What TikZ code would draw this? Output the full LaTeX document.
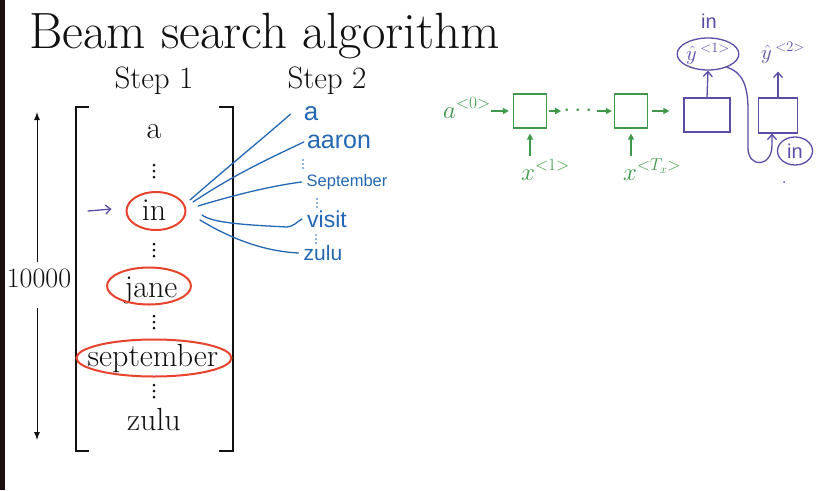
\documentclass[tikz,border=0pt]{standalone}
\usepackage{fontspec}
\usepackage{amsmath}
\usetikzlibrary{arrows.meta,positioning,shapes.geometric,calc}
\newfontfamily\handfont{Liberation Sans}
\definecolor{ink}{HTML}{111111}
\definecolor{hotred}{HTML}{E8432D}
\definecolor{pen}{HTML}{2468B4}
\definecolor{leaf}{HTML}{3E9A4A}
\definecolor{grape}{HTML}{5B4DA6}
\definecolor{edge}{HTML}{1C0F0F}
\tikzset{
  title/.style={font=\fontsize{51}{56}\selectfont,text=ink,inner sep=0pt},
  steplbl/.style={font=\fontsize{31}{34}\selectfont,text=ink,inner sep=0pt,anchor=base},
  word/.style={font=\fontsize{32}{36}\selectfont,text=ink,inner sep=0pt,anchor=base},
  ring/.style={ellipse,draw=hotred,line width=2pt,inner sep=0pt},
  hand/.style={font=\handfont\fontsize{21}{23}\selectfont,text=pen,inner sep=0pt},
  pline/.style={draw=pen,line width=1.3pt,line cap=round},
  rnn/.style={draw=leaf,line width=1.3pt,minimum width=33pt,minimum height=34pt,inner sep=0pt},
  garrow/.style={-{Triangle[length=6pt,width=6pt]},draw=leaf,line width=1.5pt},
  gmath/.style={text=leaf,inner sep=0pt,font=\fontsize{24}{26}\selectfont},
  pbox/.style={draw=grape,line width=1.3pt,inner sep=0pt},
  parrow/.style={-{Straight Barb[length=5pt,width=9pt]},draw=grape,line width=1.3pt,line cap=round},
  ptext/.style={font=\handfont\fontsize{20}{22}\selectfont,text=grape,inner sep=0pt},
  pmath/.style={font=\fontsize{21}{23}\selectfont,text=grape,inner sep=0pt},
  karrow/.style={-{Latex[length=8pt,width=6pt]},draw=ink,line width=1pt},
}
\begin{document}
\begin{tikzpicture}[x=1pt,y=-1pt]
  \useasboundingbox[fill=white] (0,0) rectangle (840,490);
  \fill[edge] (0,0) rectangle (5,490);
  % title and column heads
  \node[title,anchor=base west] (title) at (29,48) {Beam search algorithm};
  \node[steplbl] (step1) at (154,88) {Step 1};
  \node[steplbl] (step2) at (327,88) {Step 2};

  % vocabulary
  \draw[ink,line width=1.3pt] (89,107) -- (76,107) -- (76,451) -- (89,451);
  \draw[ink,line width=1.3pt] (219,107) -- (233,107) -- (233,451) -- (219,451);
  \node[word] (wa) at (154,138) {a};
  \node[word] (win) at (154,220) {in};
  \node[word] (wjane) at (151,297) {jane};
  \node[word] (wsep) at (153,366) {september};
  \node[word] (wzulu) at (154,430) {zulu};
  \foreach \y in {171,250,322,391}
    \foreach \d in {-6,0,6}
      \fill[ink] (154,\y+\d) circle (1.5pt);
  \node[ring,minimum width=59pt,minimum height=38pt] (rin) at (156,211) {};
  \node[ring,minimum width=84pt,minimum height=37pt] (rjane) at (149,286) {};
  \node[ring,minimum width=155pt,minimum height=37pt] (rsep) at (154,358) {};
  \coordinate (pick) at (88,211);
  \draw[parrow] (pick) -- ($(rin.west)+(-14,-2)$);

  % vocabulary size
  \node[font=\fontsize{28}{30}\selectfont,text=ink,inner sep=0pt,anchor=base] (size) at (39,287) {10000};
  \coordinate (vtop) at (37,112);
  \coordinate (vbot) at (37,440);
  \draw[karrow,shorten <=6pt] (size.north -| vtop) -- (vtop);
  \draw[karrow,shorten <=20pt] (size.south -| vbot) -- (vbot);

  % step 2 candidates
  \node[hand,font=\handfont\fontsize{26}{28}\selectfont] (sa) at (311,114) {a};
  \node[hand,font=\handfont\fontsize{25}{27}\selectfont] (saaron) at (339,142) {aaron};
  \node[hand,font=\handfont\fontsize{16.5}{18}\selectfont] (ssep) at (347,182) {September};
  \node[hand,font=\handfont\fontsize{23}{25}\selectfont] (svisit) at (327,219) {visit};
  \node[hand] (szulu) at (323,253) {zulu};
  \foreach \x/\y in {303/164,317/203,316/239}
    \foreach \d in {-4,0,4}
      \fill[pen] (\x,\y+\d) circle (0.8pt);
  \draw[pline] ($(rin)+(34,-11)$) .. controls +(40,-35) and +(-20,18) .. ([xshift=-13pt]sa.west);
  \draw[pline] ($(rin)+(37,-9)$) .. controls +(45,-30) and +(-25,12) .. ([xshift=-3pt]saaron.west);
  \draw[pline] ($(rin)+(42,-5)$) .. controls +(40,-12) and +(-30,4) .. ([xshift=-5pt]ssep.west);
  \draw[pline] ($(rin)+(46,4)$) .. controls +(10,8) and +(-40,-2) .. (287,227) .. controls +(6,0) and +(-4,2) .. ([xshift=-5pt]svisit.west);
  \draw[pline] ($(rin)+(44,9)$) .. controls +(25,15) and +(-40,-2) .. ([xshift=-5pt]szulu.west);

  % encoder
  \node[gmath,anchor=base] (a0) at (467,118) {$a^{<0>}$};
  \node[rnn] (enc1) at (530,111) {};
  \node[gmath] (edots) at (580,111) {$\cdots$};
  \node[rnn] (enc2) at (631,111) {};
  \node[pbox,minimum width=46pt,minimum height=34pt] (dec1) at (707,115) {};
  \node[pbox,minimum width=39pt,minimum height=35pt] (dec2) at (778,115.5) {};
  \draw[garrow,shorten >=4pt] (enc1.west -| a0.east) -- (enc1.west);
  \draw[garrow,shorten <=2pt,shorten >=2pt] (enc1.east) -- (edots.west);
  \draw[garrow,shorten >=2pt] (edots.east) -- (enc2.west);
  \draw[garrow,shorten <=4pt,shorten >=14pt] (enc2.east) -- (dec1.west |- enc2.east);
  \node[gmath,anchor=base west] (x1) at (521,180) {$x^{<1>}$};
  \node[gmath,anchor=base west] (xT) at (623,180) {$x^{<T_x>}$};
  \coordinate (in1) at (530,156);
  \coordinate (in2) at (631,156);
  \draw[garrow,shorten >=5pt] (in1) -- (enc1.south);
  \draw[garrow,shorten >=5pt] (in2) -- (enc2.south);

  % decoder
  \node[ellipse,draw=grape,line width=1.3pt,minimum width=56pt,minimum height=32pt,inner sep=0pt,pmath] (yhat1) at (708,54) {$\hat{y}\,{}^{<1>}$};
  \node[ptext] (out1) at (709,21) {in};
  \node[pmath] (yhat2) at (783,53) {$\hat{y}\,{}^{<2>}$};
  \node[ptext,ellipse,draw=grape,line width=1.3pt,minimum width=35pt,minimum height=28pt] (in2) at (795,151) {in};
  \draw[parrow] (dec1.north) -- (yhat1.south);
  \draw[parrow,shorten >=8pt] (dec2.north) -- (dec2.north |- yhat2.south);
  \draw[parrow] (yhat1.-35) .. controls (742,72) and (748,85) .. (748,110) -- (748,148)
    .. controls (748,168) and (772,168) .. (772,145) -- ([xshift=-6pt]dec2.south);
  \fill[grape] (784,182) circle (1pt);
\end{tikzpicture}
\end{document}
